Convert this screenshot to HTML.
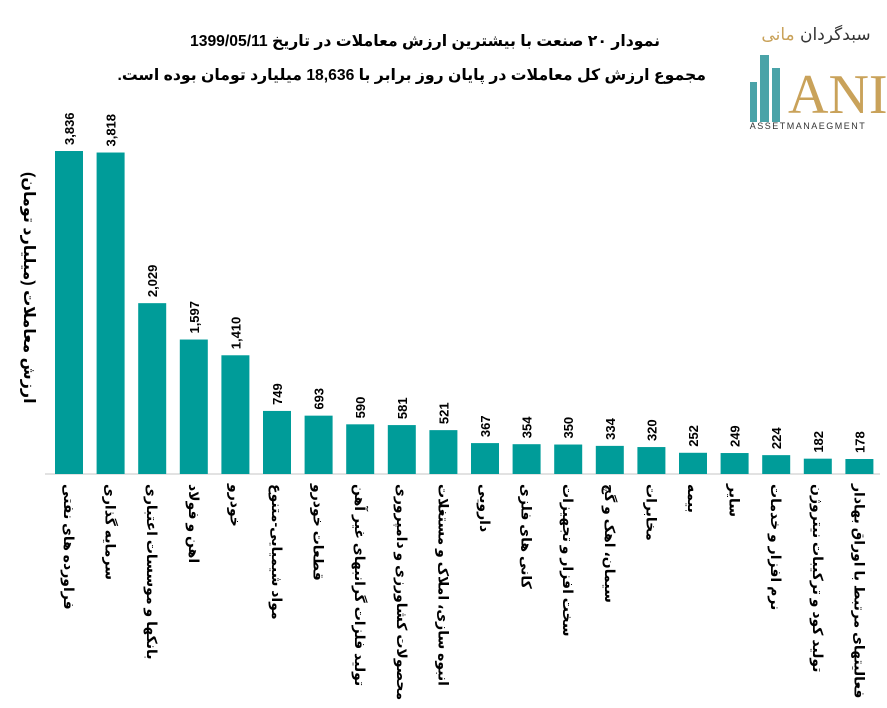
<!DOCTYPE html>
<html><head><meta charset="utf-8"><style>
body{margin:0;width:887px;height:708px;background:#fff;overflow:hidden;position:relative;font-family:"Liberation Sans","DejaVu Sans",sans-serif}
.t{position:absolute;font-weight:bold;font-size:15.7px;direction:rtl;white-space:nowrap;color:#000}
.lab{position:absolute;top:484px;writing-mode:vertical-rl;font-size:14px;font-weight:bold;white-space:nowrap;width:18px;line-height:18px;color:#000}
.yt{position:absolute;left:18px;top:172px;writing-mode:vertical-rl;font-size:16px;font-weight:bold;white-space:nowrap;line-height:20px}
</style></head><body>
<div class="t" style="top:31px;right:227px">نمودار ۲۰ صنعت با بیشترین ارزش معاملات در تاریخ 1399/05/11</div>
<div class="t" style="top:65px;right:181px">مجموع ارزش کل معاملات در پایان روز برابر با 18,636 میلیارد تومان بوده است.</div>
<div class="yt">ارزش معاملات (میلیارد تومان)</div>
<svg style="position:absolute;left:0;top:0" width="887" height="708">
<g fill="#4aa3a8"><rect x="750" y="82" width="7" height="40"/><rect x="760" y="55" width="9" height="67"/><rect x="772" y="68" width="8" height="54"/></g>
<text x="788" y="113" font-family="Liberation Serif,serif" font-size="56" fill="#c9a25a">ANI</text>
<text x="816" y="40" font-size="17" fill="#333" text-anchor="middle" font-family="DejaVu Sans,sans-serif">سبدگردان <tspan fill="#c9a25a">مانی</tspan></text>
<text x="808" y="129" font-size="9" fill="#333" text-anchor="middle" letter-spacing="1.5">ASSETMANAEGMENT</text>
<line x1="45" y1="474" x2="880" y2="474" stroke="#d9d9d9" stroke-width="1.5"/>
<g id="bars" fill="#009c99" font-size="13" font-weight="bold"></g>
</svg>
<div id="labs"></div>
<script>
var v=[3836,3818,2029,1597,1410,749,693,590,581,521,367,354,350,334,320,252,249,224,182,178];
var L=["فراورده های نفتی","سرمایه گذاری","بانکها و موسسات اعتباری","اهن و فولاد","خودرو","مواد شیمیایی-متنوع","قطعات خودرو","تولید فلزات گرانبهای غیر آهن","محصولات کشاورزی و دامپروری","انبوه سازی، املاک و مستغلات","دارویی","کانی های فلزی","سخت افزار و تجهیزات","سیمان، اهک و گچ","مخابرات","بیمه","سایر","نرم افزار و خدمات","تولید کود و ترکیبات نیتروژن","فعالیتهای مرتبط با اوراق بهادار"];
var g=document.getElementById('bars'),s='',h='';
for(var i=0;i<20;i++){var x=55+i*41.6,hh=v[i]*0.0842,y=474-hh,cx=x+14;
s+='<rect x="'+x+'" y="'+y+'" width="28" height="'+hh+'"/>';
s+='<text fill="#000" transform="translate('+(cx+5)+','+(y-6)+') rotate(-90)">'+v[i].toLocaleString('en-US')+'</text>';
h+='<div class="lab" style="left:'+(cx-9)+'px">'+L[i]+'</div>';}
g.innerHTML=s;document.getElementById('labs').innerHTML=h;
</script>
</body></html>
